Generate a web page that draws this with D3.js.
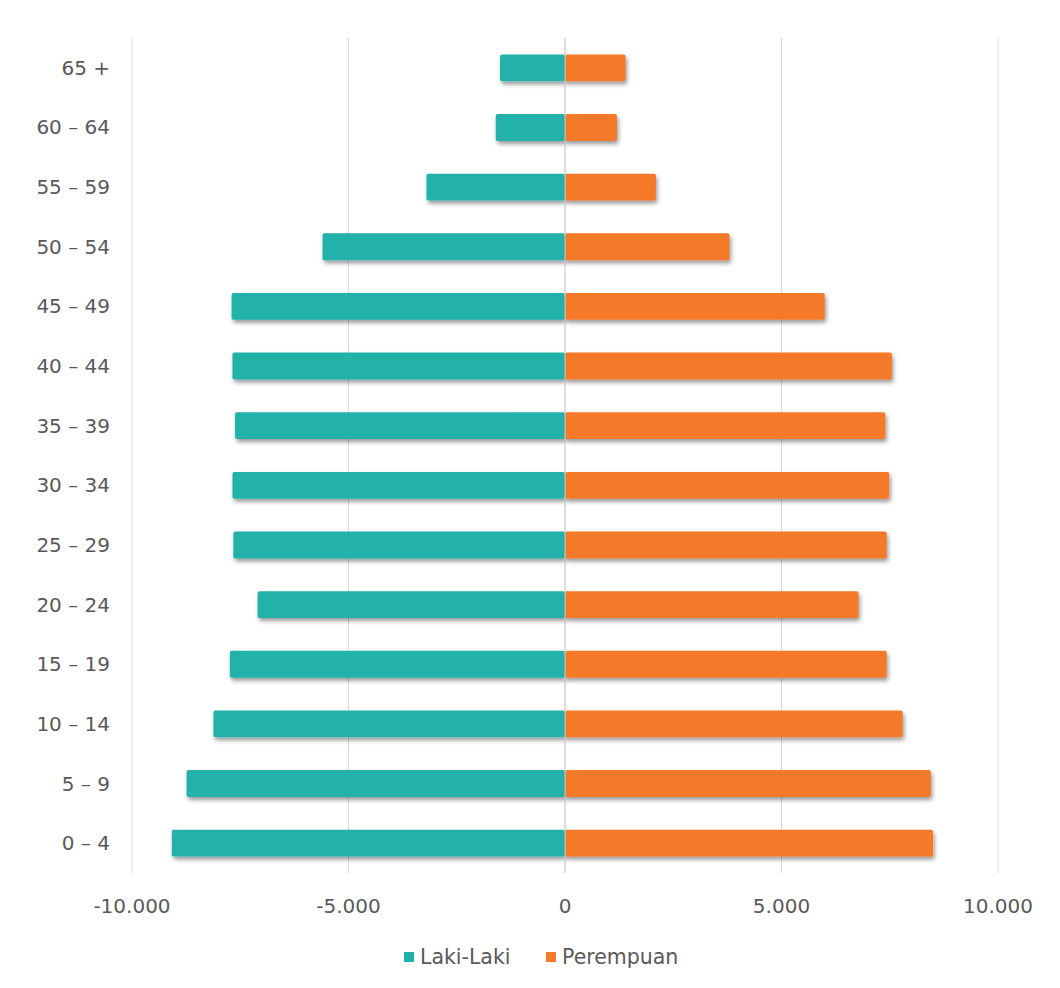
<!DOCTYPE html>
<html>
<head>
<meta charset="utf-8">
<script src="https://cdn.jsdelivr.net/npm/d3@7"></script>
<style>
  html, body { margin: 0; padding: 0; background: #fff; }
  svg { display: block; font-family: "DejaVu Sans", "Noto Sans", sans-serif; }
</style>
</head>
<body>
<div id="chart"></div>
<script>
// Age groups, top to bottom
const ageGroups = ["65 +", "60 – 64", "55 – 59", "50 – 54", "45 – 49", "40 – 44", "35 – 39",
                   "30 – 34", "25 – 29", "20 – 24", "15 – 19", "10 – 14", "5 – 9", "0 – 4"];
// Population by sex for each age group
const lakiLaki  = [1500, 1600, 3200, 5600, 7700, 7680, 7620, 7680, 7660, 7100, 7740, 8120, 8740, 9080];
const perempuan = [1400, 1200, 2100, 3800, 6000, 7550, 7400, 7490, 7430, 6780, 7430, 7800, 8450, 8500];
// Axis ticks
const xTicks = [-10000, -5000, 0, 5000, 10000];
const seriesNames = ["Laki-Laki", "Perempuan"];
const seriesColors = ["#20b2aa", "#f47a2c"];

const W = 1060, H = 988;
const svg = d3.select("#chart").append("svg").attr("width", W).attr("height", H);

const defs = svg.append("defs");
const f = defs.append("filter").attr("id", "shadow")
  .attr("x", "-5%").attr("y", "-30%").attr("width", "115%").attr("height", "190%");
f.append("feDropShadow").attr("dx", 1.5).attr("dy", 3).attr("stdDeviation", 2)
  .attr("flood-color", "#000").attr("flood-opacity", 0.4);

const x = d3.scaleLinear().domain([-10000, 10000]).range([132, 998]);
const y = d3.scaleBand().domain(ageGroups).range([38, 873]).paddingInner(0.55).paddingOuter(0.275);

const loc = d3.formatLocale({ decimal: ",", thousands: ".", grouping: [3], currency: ["", ""], minus: "-" });
const fmt = loc.format(",");

const textColor = "#595959";
const fontSize = 20;

// Vertical gridlines
svg.append("g").selectAll("line").data(xTicks).join("line")
  .attr("x1", d => x(d)).attr("x2", d => x(d))
  .attr("y1", 38).attr("y2", 873)
  .attr("stroke", "#d9d9d9").attr("stroke-width", 1);

const rows = ageGroups.map((g, i) => ({ g, l: lakiLaki[i], p: perempuan[i] }));

// Male bars (left)
svg.append("g").attr("filter", "url(#shadow)").selectAll("rect").data(rows).join("rect")
  .attr("x", d => x(-d.l)).attr("width", d => x(0) - x(-d.l))
  .attr("y", d => y(d.g)).attr("height", y.bandwidth())
  .attr("rx", 2)
  .attr("fill", seriesColors[0]);

// Female bars (right)
svg.append("g").attr("filter", "url(#shadow)").selectAll("rect").data(rows).join("rect")
  .attr("x", x(0)).attr("width", d => x(d.p) - x(0))
  .attr("y", d => y(d.g)).attr("height", y.bandwidth())
  .attr("rx", 2)
  .attr("fill", seriesColors[1]);

// Centre line
svg.append("line").attr("x1", x(0)).attr("x2", x(0)).attr("y1", 38).attr("y2", 873)
  .attr("stroke", "#d0d0d0").attr("stroke-width", 1);

// Category labels
svg.append("g").selectAll("text").data(ageGroups).join("text")
  .attr("x", 110).attr("y", d => y(d) + y.bandwidth() / 2)
  .attr("dy", "0.35em").attr("text-anchor", "end")
  .attr("font-size", fontSize).attr("fill", textColor)
  .text(d => d);

// X tick labels
svg.append("g").selectAll("text").data(xTicks).join("text")
  .attr("x", d => x(d)).attr("y", 906).attr("dy", "0.35em")
  .attr("text-anchor", "middle").attr("font-size", fontSize).attr("fill", textColor)
  .text(d => fmt(d));

// Legend
const legend = svg.append("g");
const legendItems = [
  { name: seriesNames[0], color: seriesColors[0], x: 404 },
  { name: seriesNames[1], color: seriesColors[1], x: 546 }
];
const li = legend.selectAll("g").data(legendItems).join("g")
  .attr("transform", d => `translate(${d.x},957)`);
li.append("rect").attr("x", 0).attr("y", -5).attr("width", 10).attr("height", 10)
  .attr("fill", d => d.color);
li.append("text").attr("x", 16).attr("y", 0).attr("dy", "0.35em")
  .attr("font-size", 20.5).attr("fill", textColor).text(d => d.name);
</script>
</body>
</html>
